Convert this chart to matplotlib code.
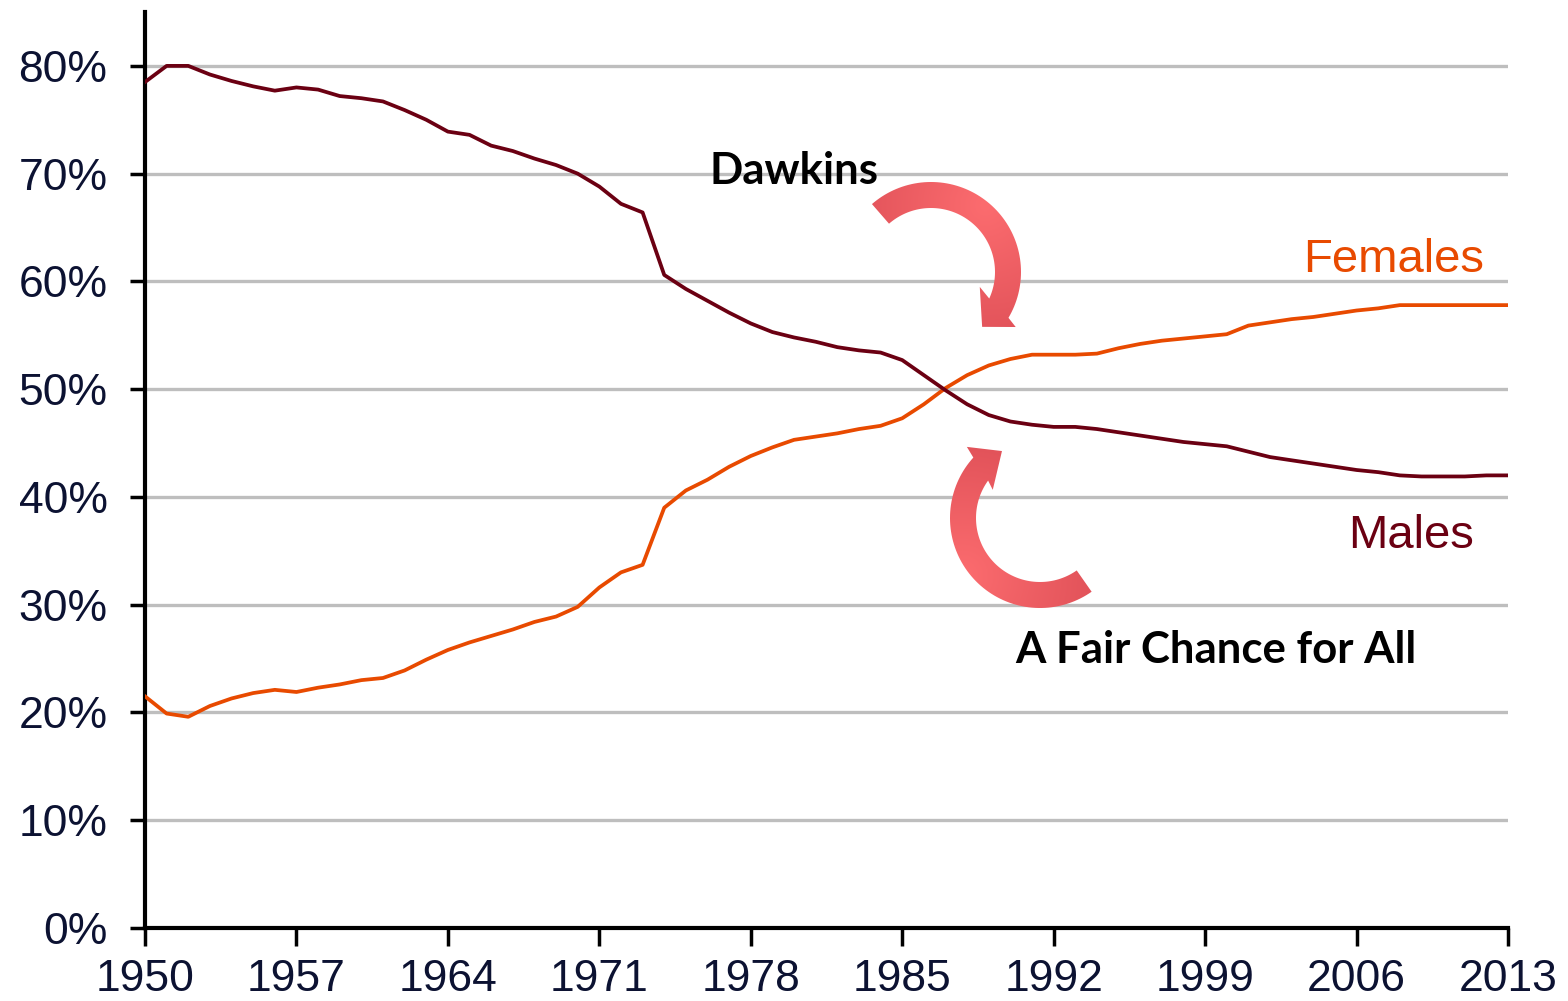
import numpy as np
import matplotlib
matplotlib.use("Agg")
import matplotlib.pyplot as plt
from matplotlib.patches import Polygon

plt.rcParams["font.family"] = ["Liberation Sans", "DejaVu Sans"]

years = list(range(1950, 2014))
males = [
    78.5, 80.0, 80.0, 79.2, 78.6, 78.1, 77.7, 78.0, 77.8, 77.2,
    77.0, 76.7, 75.9, 75.0, 73.9, 73.6, 72.6, 72.1, 71.4, 70.8,
    70.0, 68.8, 67.2, 66.4, 60.6, 59.3, 58.2, 57.1, 56.1, 55.3,
    54.8, 54.4, 53.9, 53.6, 53.4, 52.7, 51.3, 49.9, 48.6, 47.6,
    47.0, 46.7, 46.5, 46.5, 46.3, 46.0, 45.7, 45.4, 45.1, 44.9,
    44.7, 44.2, 43.7, 43.4, 43.1, 42.8, 42.5, 42.3, 42.0, 41.9,
    41.9, 41.9, 42.0, 42.0,
]
females = [
    21.5, 19.9, 19.6, 20.6, 21.3, 21.8, 22.1, 21.9, 22.3, 22.6,
    23.0, 23.2, 23.9, 24.9, 25.8, 26.5, 27.1, 27.7, 28.4, 28.9,
    29.8, 31.6, 33.0, 33.7, 39.0, 40.6, 41.6, 42.8, 43.8, 44.6,
    45.3, 45.6, 45.9, 46.3, 46.6, 47.3, 48.6, 50.1, 51.3, 52.2,
    52.8, 53.2, 53.2, 53.2, 53.3, 53.8, 54.2, 54.5, 54.7, 54.9,
    55.1, 55.9, 56.2, 56.5, 56.7, 57.0, 57.3, 57.5, 57.8, 57.8,
    57.8, 57.8, 57.8, 57.8,
]
x_ticks = list(range(1950, 2014, 7))
y_ticks = list(range(0, 81, 10))

MALE_COLOR = "#6B0012"
FEMALE_COLOR = "#E84A00"
TICK_COLOR = "#0C1232"
W, H = 1568, 1001


def curved_arrow(ov, center, tail, end_out, end_in, r_in, r_out,
                 barb_out, tip, barb_in, light_spot):
    """thick circular arrow drawn clockwise, angles in degrees, image pixels"""
    cx, cy = center

    def pt(r, a):
        a = np.radians(a)
        return cx + r * np.cos(a), cy - r * np.sin(a)

    outer = [pt(r_out, a) for a in np.linspace(tail, end_out, 80)]
    inner = [pt(r_in, a) for a in np.linspace(end_in, tail, 80)]
    pts = outer + [pt(*barb_out), pt(*tip), pt(*barb_in)] + inner
    poly = Polygon(pts, closed=True, transform=ov.transData,
                   facecolor="none", edgecolor="none")
    ov.add_patch(poly)

    x0, x1 = int(cx - 120), int(cx + 120)
    y0, y1 = int(cy - 120), int(cy + 120)
    xs, ys = np.meshgrid(np.arange(x0, x1), np.arange(y0, y1))
    t = np.clip(np.hypot(xs - light_spot[0], ys - light_spot[1]) / 130, 0, 1)
    light = np.array([252, 108, 111]) / 255
    dark = np.array([226, 83, 90]) / 255
    img = light * (1 - t[..., None]) + dark * t[..., None]
    im = ov.imshow(img, extent=(x0, x1, y1, y0), origin="upper",
                   interpolation="bilinear", aspect="auto")
    im.set_clip_path(poly)


fig = plt.figure(figsize=(W / 100, H / 100), dpi=100)
ax = fig.add_axes([145 / W, 1 - 928 / H, 1363 / W, (928 - 12) / H])

ax.plot(years, females, color=FEMALE_COLOR, lw=2.7, zorder=3)
ax.plot(years, males, color=MALE_COLOR, lw=2.7, zorder=3)

ax.set_xlim(1950, 2013)
ax.set_ylim(0, 85)
ax.set_xticks(x_ticks)
ax.set_yticks(y_ticks)
ax.set_yticklabels([f"{v}%" for v in y_ticks])
ax.grid(axis="y", color="#BEBEBE", lw=2.4)
ax.set_axisbelow(True)
for side in ["top", "right"]:
    ax.spines[side].set_visible(False)
for side in ["left", "bottom"]:
    ax.spines[side].set_linewidth(3)
ax.tick_params(axis="y", length=11, width=2.5, pad=16, labelsize=32,
               labelcolor=TICK_COLOR)
ax.tick_params(axis="x", length=13, width=2.5, pad=9, labelsize=32,
               labelcolor=TICK_COLOR)

ax.text(2007.7, 60.9, "Females", color=FEMALE_COLOR, fontsize=34,
        ha="center", va="baseline")
ax.text(2008.5, 35.3, "Males", color=MALE_COLOR, fontsize=34,
        ha="center", va="baseline")
ax.text(1980.0, 69.0, "Dawkins", fontsize=31.5, fontweight="bold",
        family=["Lato", "DejaVu Sans"], ha="center", va="baseline")
ax.text(1999.5, 24.6, "A Fair Chance for All", fontsize=31.5,
        fontweight="bold", family=["Lato", "DejaVu Sans"],
        ha="center", va="baseline")

# overlay in image pixel coordinates for the two curved arrows
ov = fig.add_axes([0, 0, 1, 1], zorder=5)
ov.set_xlim(0, W)
ov.set_ylim(H, 0)
ov.axis("off")
ov.patch.set_alpha(0)

curved_arrow(ov, (931, 272), 131, -30.6, -24.5, 64, 90,
             (101, -33), (75, -47), (51, -17), (985, 205))
curved_arrow(ov, (1040, 518), -55, -222.2, -215.8, 64, 90,
             (102, -224.2), (77, -240.4), (55, -210.8), (962, 575))

fig.savefig("out.png", dpi=100)
